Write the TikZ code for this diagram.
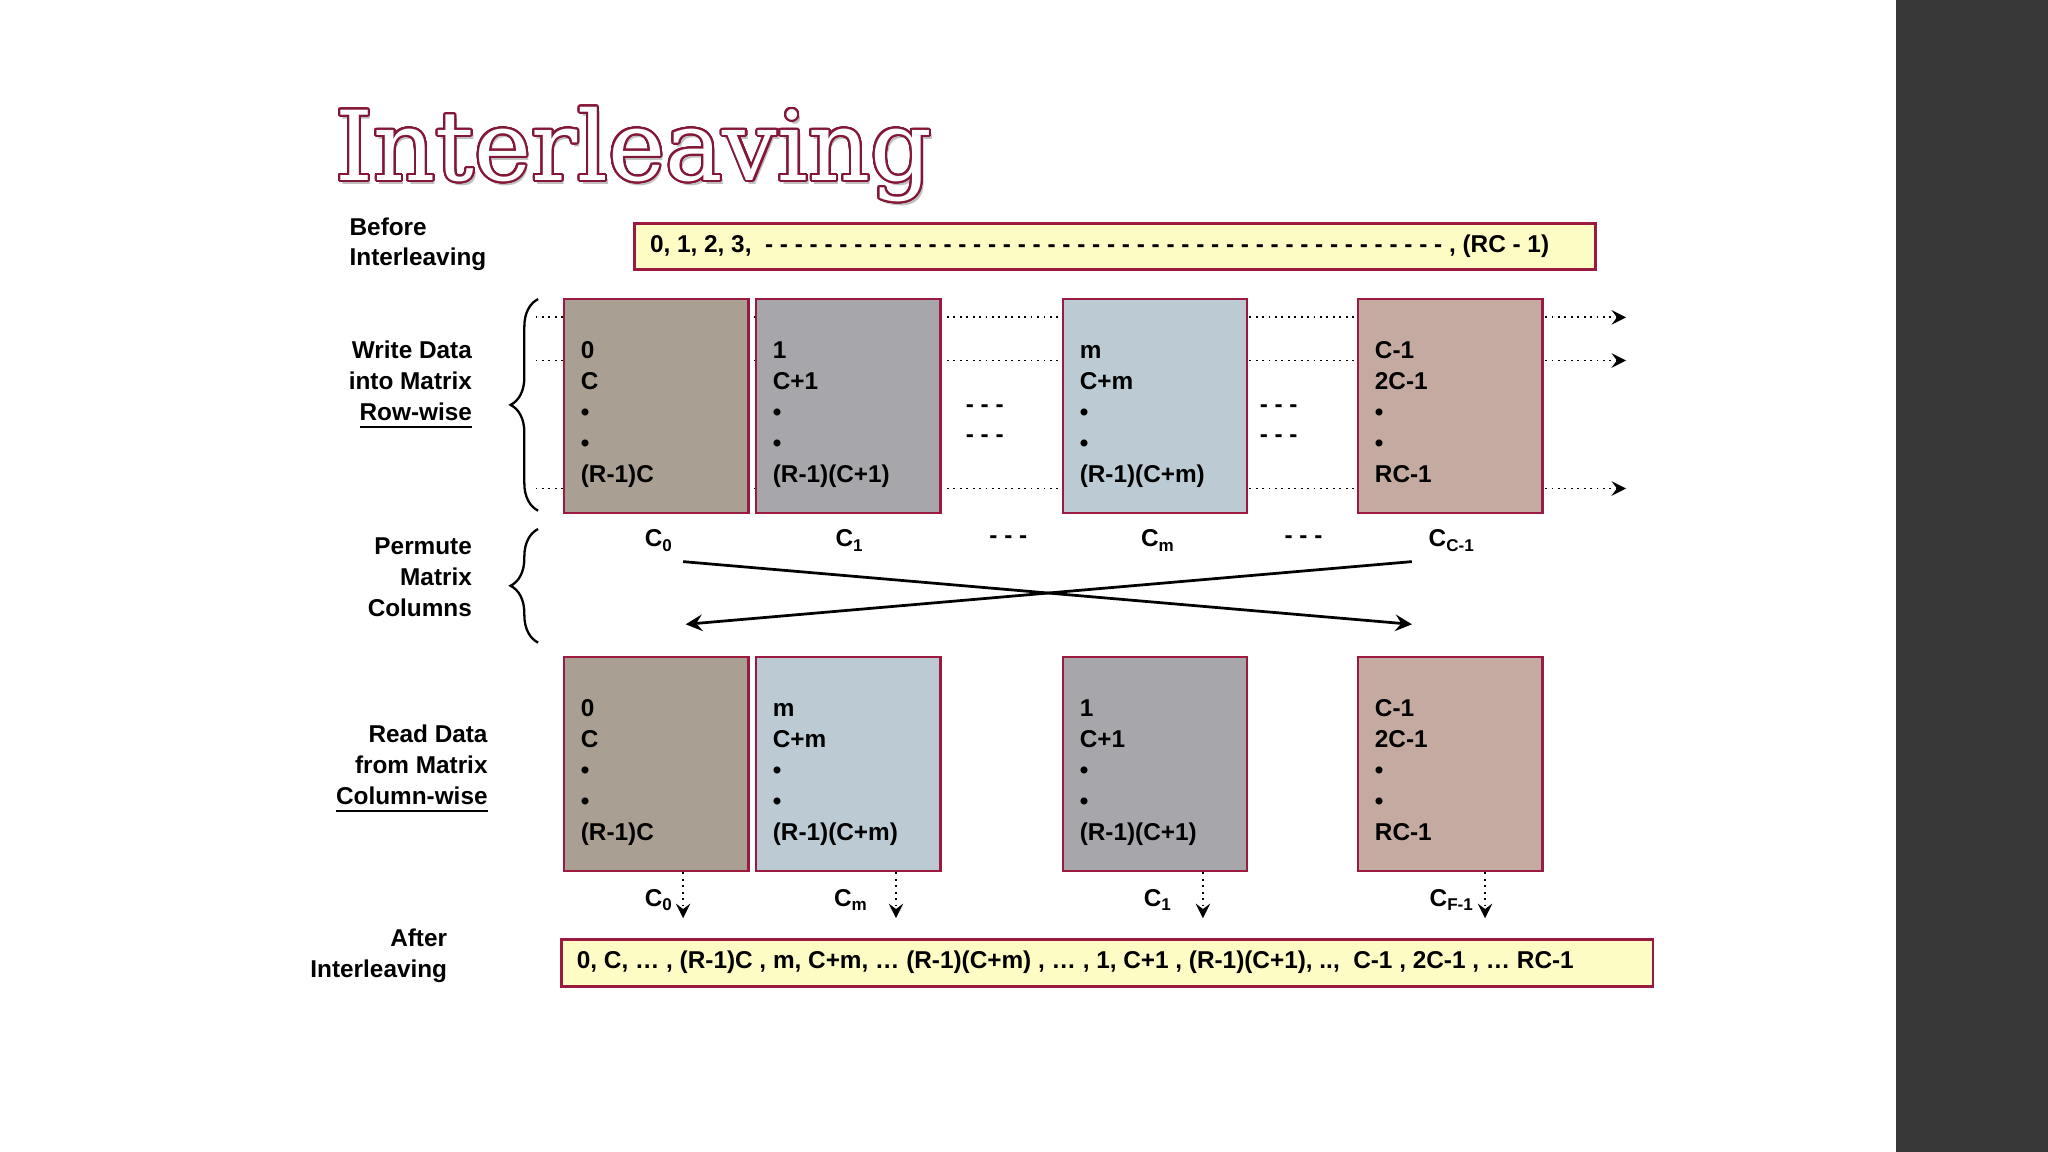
\documentclass[tikz,border=0pt]{standalone}
\usepackage{fontspec}
\setmainfont{Liberation Sans}
\newfontfamily\titlefont{DejaVu Serif}
\usepackage{contour}
\usetikzlibrary{positioning,calc,decorations.pathreplacing}
\definecolor{frame}{HTML}{9B1B40}
\definecolor{note}{HTML}{FDFCC4}
\definecolor{colbrown}{HTML}{A9A093}
\definecolor{colgray}{HTML}{A7A6AA}
\definecolor{colblue}{HTML}{BCCBD3}
\definecolor{colpink}{HTML}{C4AAA0}
\tikzset{
  txt/.style={font=\bfseries\fontsize{5.3}{6.7}\selectfont, inner sep=0pt},
  matbox/.style={draw=frame, line width=0.5pt, minimum width=1.41cm, minimum height=1.64cm, inner sep=0pt},
  strip/.style={draw=frame, fill=note, line width=0.6pt, inner sep=0pt, minimum height=0.35cm},
  rowarrow/.style={densely dotted, line width=0.4pt, -stealth},
  colarrow/.style={densely dotted, line width=0.4pt, -stealth},
}
\begin{document}
\begin{tikzpicture}[x=0.01cm, y=-0.01cm]
  \useasboundingbox[fill=white] (0,0) rectangle (1568,882);
  \fill[black!78] (1452,0) rectangle (1568,882);

  % title
  \node[anchor=base west, inner sep=0pt, text=black!25] at (258,141)
    {\titlefont\fontsize{21}{21}\selectfont Interleaving};
  \node[anchor=base west, inner sep=0pt, text=white] (title) at (256,138)
    {\titlefont\fontsize{21}{21}\selectfont\contournumber{32}\contourlength{0.45pt}\contour{frame!85!black}{Interleaving}};

  % before interleaving
  \node[txt, anchor=west, align=left] (before) at (267,187) {Before\\Interleaving};
  \node[strip, minimum width=7.35cm, anchor=north west] (input) at (485,170) {};
  \node[txt, anchor=west] at ($(input.west)+(12,0)$)
    {0, 1, 2, 3,\ \ - - - - - - - - - - - - - - - - - - - - - - - - - - - - - - - - - - - - - - - - - - - - - - , (RC - 1)};

  % row-wise writing
  \foreach \yy in {243,276,374}
    \draw[rowarrow] (410,\yy) -- (1245,\yy);
  \node[matbox, fill=colbrown, anchor=north west] (w0) at (431,228) {};
  \node[matbox, fill=colgray, anchor=north west] (w1) at (578,228) {};
  \node[matbox, fill=colblue, anchor=north west] (wm) at (813,228) {};
  \node[matbox, fill=colpink, anchor=north west] (wl) at (1039,228) {};
  \foreach \b/\t in {w0/{0\\C\\•\\•\\(R-1)C}, w1/{1\\C+1\\•\\•\\(R-1)(C+1)},
                     wm/{m\\C+m\\•\\•\\(R-1)(C+m)}, wl/{C-1\\2C-1\\•\\•\\RC-1}}
    \node[txt, anchor=north west, align=left, font=\bfseries\fontsize{5.3}{6.75}\selectfont]
      at ($(\b.north west)+(13,29)$) {\strut\t};
  \foreach \xx in {754,979}
    \node[txt] at (\xx,313) {- - -};
  \foreach \xx in {754,979}
    \node[txt] at (\xx,336) {- - -};
  \draw[decorate, decoration={brace, amplitude=6pt}, line width=0.5pt] (412,391) -- (412,229);
  \node[txt, anchor=east, align=right] (write) at (362,295) {Write Data\\into Matrix\\\underline{Row-wise}};

  % column permutation
  \node[txt] (c0) at (505,414) {C\textsubscript{0}};
  \node[txt] (c1) at (651,414) {C\textsubscript{1}};
  \node[txt] at (772,413) {- - -};
  \node[txt] (cm) at (887,414) {C\textsubscript{m}};
  \node[txt] at (998,413) {- - -};
  \node[txt] (cl) at (1112,414) {C\textsubscript{C-1}};
  \coordinate (p0) at (523,430);
  \coordinate (pl) at (1081,430);
  \coordinate (q0) at (525,478);
  \coordinate (ql) at (1081,478);
  \draw[line width=0.6pt, -stealth] (p0) -- (ql);
  \draw[line width=0.6pt, -stealth] (pl) -- (q0);
  \draw[decorate, decoration={brace, amplitude=6pt}, line width=0.5pt] (412,492) -- (412,405);
  \node[txt, anchor=east, align=right] (permute) at (362,442) {Permute\\Matrix\\Columns};

  % column-wise reading
  \node[matbox, fill=colbrown, anchor=north west] (r0) at (431,502) {};
  \node[matbox, fill=colblue, anchor=north west] (rm) at (578,502) {};
  \node[matbox, fill=colgray, anchor=north west] (r1) at (813,502) {};
  \node[matbox, fill=colpink, anchor=north west] (rl) at (1039,502) {};
  \foreach \b/\t in {r0/{0\\C\\•\\•\\(R-1)C}, rm/{m\\C+m\\•\\•\\(R-1)(C+m)},
                     r1/{1\\C+1\\•\\•\\(R-1)(C+1)}, rl/{C-1\\2C-1\\•\\•\\RC-1}}
    \node[txt, anchor=north west, align=left, font=\bfseries\fontsize{5.3}{6.75}\selectfont]
      at ($(\b.north west)+(13,29)$) {\strut\t};
  \node[txt, anchor=east, align=right] (read) at (374,589) {Read Data\\from Matrix\\\underline{Column-wise}};
  \foreach \b/\l/\xx/\lx in {r0/{C\textsubscript{0}}/523/505, rm/{C\textsubscript{m}}/686/652,
                            r1/{C\textsubscript{1}}/921/887, rl/{C\textsubscript{F-1}}/1137/1112} {
    \node[txt] at (\lx,689) {\l};
    \draw[colarrow] (\xx,668) -- (\xx,703);
  }

  % after interleaving
  \node[txt, anchor=east, align=right] (after) at (343,732) {After\\Interleaving};
  \node[strip, minimum width=8.35cm, minimum height=0.36cm, anchor=north west] (output) at (429,718) {};
  \node[txt, anchor=west] at ($(output.west)+(12,0)$)
    {0, C, \dots\ , (R-1)C , m, C+m, \dots\ (R-1)(C+m) , \dots\ , 1, C+1 , (R-1)(C+1), .., \ C-1 , 2C-1 , \dots\ RC-1};
\end{tikzpicture}
\end{document}
